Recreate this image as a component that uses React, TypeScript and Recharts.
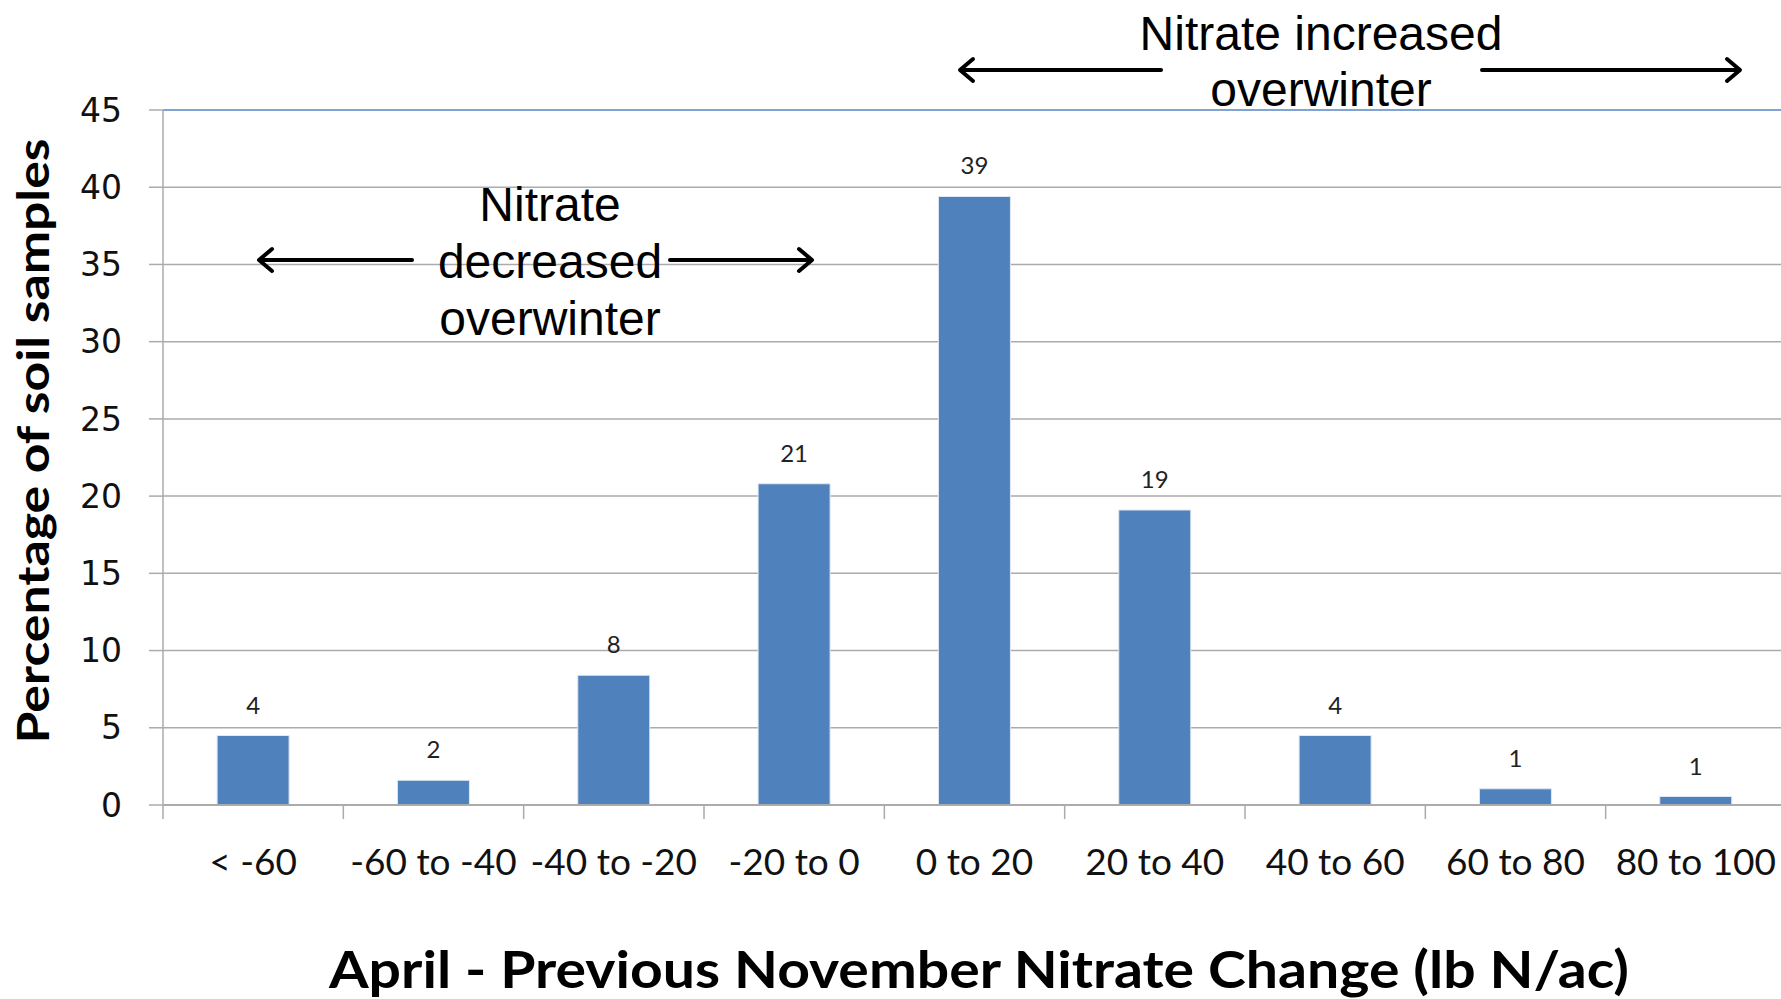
import React from "react";
import { Bar, BarChart, CartesianGrid, LabelList, ReferenceLine, XAxis, YAxis } from "recharts";

const categories = ["< -60", "-60 to -40", "-40 to -20", "-20 to 0", "0 to 20", "20 to 40", "40 to 60", "60 to 80", "80 to 100"];
const percentages = [4.5, 1.6, 8.4, 20.8, 39.4, 19.1, 4.5, 1.05, 0.55];
const valueLabels = ["4", "2", "8", "21", "39", "19", "4", "1", "1"];
const yTicks = [0, 5, 10, 15, 20, 25, 30, 35, 40, 45];

const data = categories.map((range, i) => ({
  range,
  pct: percentages[i],
  label: valueLabels[i]
}));

const W = 1781;
const H = 999;
const gridGray = "#ababab";

function CategoryTick(props: any) {
  const { x, y, payload, index } = props;
  const half = payload?.offset ?? 90;
  return (
    <g>
      <line x1={x - half} x2={x - half} y1={y} y2={y + 14} stroke={gridGray} strokeWidth={1.5} />
      {index === categories.length - 1 && (
        <line x1={x + half} x2={x + half} y1={y} y2={y + 14} stroke={gridGray} strokeWidth={1.5} />
      )}
      <text x={x} y={y + 70} textAnchor="middle" fontFamily="Lato" fontSize={37} fill="#111">
        {payload.value}
      </text>
    </g>
  );
}

function Arrow({ from, to, y }: { from: number; to: number; y: number }) {
  const dir = to > from ? 1 : -1;
  return (
    <g stroke="#000" strokeWidth={4} fill="none" strokeLinecap="round" strokeLinejoin="round">
      <line x1={from} x2={to - dir * 2} y1={y} y2={y} />
      <polyline points={`${to - dir * 13},${y - 11} ${to},${y} ${to - dir * 13},${y + 11}`} />
    </g>
  );
}

function Annotations() {
  const note = { fontFamily: "Liberation Sans, Arial", fontSize: 48, fill: "#000", textAnchor: "middle" as const };
  return (
    <svg width={W} height={H} style={{ position: "absolute", left: 0, top: 0, pointerEvents: "none" }}>
      <text {...note} x={1321} y={50}>Nitrate increased</text>
      <text {...note} x={1321} y={106}>overwinter</text>
      <Arrow from={1161} to={960} y={70} />
      <Arrow from={1482} to={1740} y={70} />

      <text {...note} x={550} y={221}>Nitrate</text>
      <text {...note} x={550} y={278}>decreased</text>
      <text {...note} x={550} y={335}>overwinter</text>
      <Arrow from={412} to={259} y={260} />
      <Arrow from={670} to={812} y={260} />

      <text
        x={0}
        y={0}
        transform="translate(49 441) rotate(-90)"
        textAnchor="middle"
        fontFamily="Lato"
        fontWeight={700}
        fontSize={44}
        textLength={605}
        lengthAdjust="spacingAndGlyphs"
        fill="#000"
      >
        Percentage of soil samples
      </text>
      <text
        x={979}
        y={988}
        textAnchor="middle"
        fontFamily="Lato"
        fontWeight={700}
        fontSize={52}
        textLength={1300}
        lengthAdjust="spacingAndGlyphs"
        fill="#000"
      >
        April - Previous November Nitrate Change (lb N/ac)
      </text>
    </svg>
  );
}

export default function App() {
  return (
    <div style={{ position: "absolute", left: 0, top: 0, width: W, height: H, background: "#fff", overflow: "hidden" }}>
      <BarChart width={W + 5} height={H} data={data} margin={{ top: 110, right: 0, left: 0, bottom: 0 }} barCategoryGap="30%">
        <CartesianGrid vertical={false} stroke={gridGray} strokeWidth={1.5} />
        <XAxis
          dataKey="range"
          height={194}
          axisLine={{ stroke: gridGray, strokeWidth: 2 }}
          tickLine={false}
          tickSize={0}
          tickMargin={0}
          interval={0}
          tick={<CategoryTick />}
        />
        <YAxis
          width={163}
          domain={[0, 45]}
          ticks={yTicks}
          interval={0}
          axisLine={{ stroke: gridGray, strokeWidth: 1.5 }}
          tickLine={{ stroke: gridGray, strokeWidth: 1.5 }}
          tickSize={14}
          tickMargin={27}
          tick={{ fontFamily: "DejaVu Sans", fontSize: 33, fill: "#111" }}
        />
        <ReferenceLine y={45} stroke="#7fa3d3" strokeWidth={2} />
        <Bar dataKey="pct" fill="#4f81bd" stroke="#dfe8f3" strokeWidth={1} isAnimationActive={false}>
          <LabelList dataKey="label" position="top" offset={22} fontFamily="Lato" fontSize={24} fill="#222" />
        </Bar>
      </BarChart>
      <Annotations />
    </div>
  );
}
